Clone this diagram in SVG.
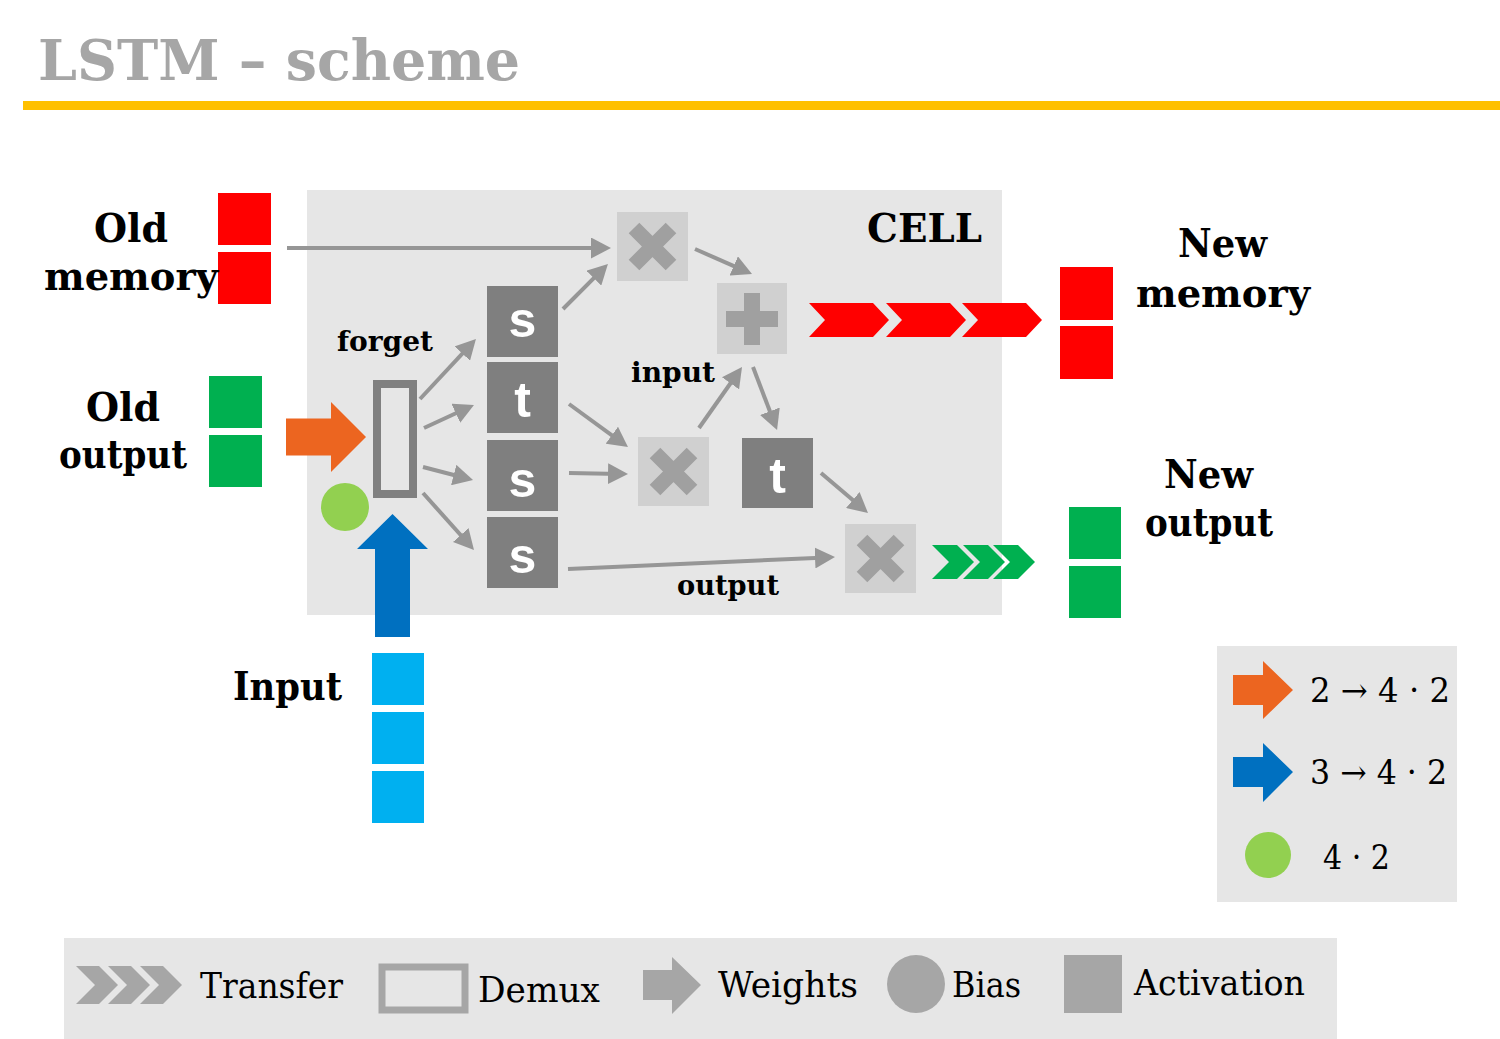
<svg xmlns="http://www.w3.org/2000/svg" width="1500" height="1039" viewBox="0 0 1500 1039">
<style>
.lbl{font-family:"DejaVu Serif","Liberation Serif",serif;font-weight:bold;fill:#000}
.lg{font-family:"DejaVu Serif","Liberation Serif",serif;font-weight:normal;fill:#000}
.mth{font-family:"DejaVu Serif","Liberation Serif",serif;fill:#000}
.act{fill:#7f7f7f}
.actt{font-family:"Liberation Sans",Arial,sans-serif;font-weight:bold;fill:#fff;font-size:50px;text-anchor:middle}
.op{fill:#d0d0d0}
.x{stroke:#a0a0a0;stroke-width:15;stroke-linecap:butt}
.con{stroke:#969696;stroke-width:4;fill:none;marker-end:url(#ah)}
</style>
<defs>
<marker id="ah" markerUnits="userSpaceOnUse" markerWidth="20" markerHeight="21" refX="12" refY="10.5" orient="auto">
<path d="M0,0 L20,10.5 L0,21 z" fill="#969696"/>
</marker>
</defs>
<rect width="1500" height="1039" fill="#fff"/>
<g id="title">
<text x="38" y="80" font-size="56" textLength="482" lengthAdjust="spacingAndGlyphs" class="lbl" style="fill:#a6a6a6">LSTM – scheme</text>
<rect x="23" y="101" width="1477" height="9" fill="#ffc000"/>
</g>
<g id="cell">
<rect x="307" y="190" width="695" height="425" fill="#e6e6e6"/>
<text x="867" y="242" font-size="40" textLength="115" lengthAdjust="spacingAndGlyphs" class="lbl">CELL</text>
</g>
<g id="old-memory">
<rect x="218" y="193" width="53" height="52" fill="#ff0000"/>
<rect x="218" y="252" width="53" height="52" fill="#ff0000"/>
<text x="94" y="242" font-size="40" textLength="74" lengthAdjust="spacingAndGlyphs" class="lbl">Old</text>
<text x="44" y="290" font-size="40" textLength="174" lengthAdjust="spacingAndGlyphs" class="lbl">memory</text>
</g>
<g id="old-output">
<rect x="209" y="376" width="53" height="52" fill="#00b050"/>
<rect x="209" y="435" width="53" height="52" fill="#00b050"/>
<text x="86" y="421" font-size="40" textLength="74" lengthAdjust="spacingAndGlyphs" class="lbl">Old</text>
<text x="59" y="468" font-size="40" textLength="128" lengthAdjust="spacingAndGlyphs" class="lbl">output</text>
</g>
<g id="new-memory">
<rect x="1060" y="267" width="53" height="53" fill="#ff0000"/>
<rect x="1060" y="326" width="53" height="53" fill="#ff0000"/>
<text x="1178" y="257" font-size="40" textLength="89" lengthAdjust="spacingAndGlyphs" class="lbl">New</text>
<text x="1136" y="307" font-size="40" textLength="174" lengthAdjust="spacingAndGlyphs" class="lbl">memory</text>
</g>
<g id="new-output">
<rect x="1069" y="507" width="52" height="52" fill="#00b050"/>
<rect x="1069" y="566" width="52" height="52" fill="#00b050"/>
<text x="1164" y="488" font-size="40" textLength="89" lengthAdjust="spacingAndGlyphs" class="lbl">New</text>
<text x="1145" y="536" font-size="40" textLength="128" lengthAdjust="spacingAndGlyphs" class="lbl">output</text>
</g>
<g id="input">
<rect x="372" y="653" width="52" height="52" fill="#00b0f0"/>
<rect x="372" y="712" width="52" height="52" fill="#00b0f0"/>
<rect x="372" y="771" width="52" height="52" fill="#00b0f0"/>
<text x="233" y="700" font-size="40" textLength="109" lengthAdjust="spacingAndGlyphs" class="lbl">Input</text>
</g>
<g id="input-weights">
<path d="M375,637 L375,549 L357,549 L392.5,514 L428,549 L410,549 L410,637 z" fill="#0070c0"/>
</g>
<g id="output-weights">
<path d="M286,418.5 L331,418.5 L331,402 L366,437 L331,472 L331,455.5 L286,455.5 z" fill="#ec6520"/>
</g>
<g id="bias">
<circle cx="345" cy="507" r="24" fill="#92d050"/>
</g>
<g id="demux">
<rect x="377" y="384" width="36" height="110" fill="none" stroke="#808080" stroke-width="8"/>
<text x="337" y="351" font-size="28" textLength="96" lengthAdjust="spacingAndGlyphs" class="lbl">forget</text>
</g>
<g id="act-s1"><rect x="487" y="286" width="71" height="71" class="act"/><text x="522.5" y="337" class="actt">s</text></g>
<g id="act-t1"><rect x="487" y="362" width="71" height="71" class="act"/><text x="522.5" y="417" class="actt">t</text></g>
<g id="act-s2"><rect x="487" y="440" width="71" height="71" class="act"/><text x="522.5" y="497" class="actt">s</text></g>
<g id="act-s3"><rect x="487" y="517" width="71" height="71" class="act"/><text x="522.5" y="573" class="actt">s</text></g>
<g id="act-t2"><rect x="742" y="438" width="71" height="70" class="act"/><text x="777.5" y="493" class="actt">t</text></g>
<g id="mul-forget">
<rect x="617" y="212" width="71" height="69" class="op"/>
<path d="M634,228 L671,265 M671,228 L634,265" class="x"/>
</g>
<g id="add">
<rect x="717" y="283" width="70" height="71" class="op"/>
<rect x="744" y="293" width="16" height="52" fill="#a0a0a0"/>
<rect x="726" y="311" width="52" height="16" fill="#a0a0a0"/>
</g>
<g id="mul-input">
<rect x="638" y="437" width="71" height="69" class="op"/>
<path d="M655,453 L692,490 M692,453 L655,490" class="x"/>
<text x="631" y="382" font-size="28" textLength="84" lengthAdjust="spacingAndGlyphs" class="lbl">input</text>
</g>
<g id="mul-output">
<rect x="845" y="524" width="71" height="69" class="op"/>
<path d="M862,540 L899,577 M899,540 L862,577" class="x"/>
<text x="677" y="595" font-size="28" textLength="102" lengthAdjust="spacingAndGlyphs" class="lbl">output</text>
</g>
<g id="connectors">
<line x1="287" y1="248" x2="603" y2="248" class="con"/>
<line x1="563" y1="309" x2="602.3" y2="269.7" class="con"/>
<line x1="695" y1="249" x2="744.7" y2="270.8" class="con"/>
<line x1="420" y1="399" x2="470.5" y2="344.8" class="con"/>
<line x1="424" y1="428" x2="466.7" y2="408.3" class="con"/>
<line x1="569" y1="404" x2="621.5" y2="442.3" class="con"/>
<line x1="423" y1="467" x2="465.3" y2="478" class="con"/>
<line x1="569" y1="473" x2="620" y2="473.9" class="con"/>
<line x1="423" y1="493" x2="468.7" y2="544" class="con"/>
<line x1="568" y1="569" x2="827" y2="557.4" class="con"/>
<line x1="699" y1="428" x2="737.4" y2="373.5" class="con"/>
<line x1="753" y1="367" x2="774.2" y2="422.5" class="con"/>
<line x1="821" y1="473" x2="861.9" y2="507.8" class="con"/>
<g id="transfer-memory" fill="#ff0000">
<path d="M809,303 L873,303 L889,320 L873,337 L809,337 L825,320 z"/>
<path d="M886,303 L950,303 L966,320 L950,337 L886,337 L902,320 z"/>
<path d="M962,303 L1026,303 L1042,320 L1026,337 L962,337 L978,320 z"/>
</g>
<g id="transfer-output" fill="#00b050">
<path d="M932,545 L957,545 L974,562 L957,579 L932,579 L949,562 z"/>
<path d="M963,545 L988,545 L1005,562 L988,579 L963,579 L980,562 z"/>
<path d="M993,545 L1018,545 L1035,562 L1018,579 L993,579 L1010,562 z"/>
</g>
</g>
<g id="legend-dims">
<rect x="1217" y="646" width="240" height="256" fill="#e6e6e6"/>
<path d="M1233,675 L1263,675 L1263,661 L1293,690 L1263,719 L1263,705 L1233,705 z" fill="#ec6520"/>
<path d="M1233,757 L1263,757 L1263,743 L1293,772 L1263,802 L1263,787 L1233,787 z" fill="#0070c0"/>
<circle cx="1268" cy="855" r="23" fill="#92d050"/>
<text x="1310" y="702" font-size="34" textLength="140" lengthAdjust="spacingAndGlyphs" class="mth">2 → 4 · 2</text>
<text x="1310" y="784" font-size="34" textLength="137" lengthAdjust="spacingAndGlyphs" class="mth">3 → 4 · 2</text>
<text x="1323" y="869" font-size="34" textLength="67" lengthAdjust="spacingAndGlyphs" class="mth">4 · 2</text>
</g>
<g id="legend-bottom">
<rect x="64" y="938" width="1273" height="101" fill="#e6e6e6"/>
<g fill="#a6a6a6">
<path d="M76,966 L99,966 L118,985 L99,1004 L76,1004 L95,985 z"/>
<path d="M108,966 L131,966 L150,985 L131,1004 L108,1004 L127,985 z"/>
<path d="M140,966 L163,966 L182,985 L163,1004 L140,1004 L159,985 z"/>
</g>
<text x="200" y="998" font-size="36" textLength="143" lengthAdjust="spacingAndGlyphs" class="lg">Transfer</text>
<rect x="382" y="967" width="83" height="43" fill="#e6e6e6" stroke="#a6a6a6" stroke-width="7"/>
<text x="478" y="1002" font-size="36" textLength="122" lengthAdjust="spacingAndGlyphs" class="lg">Demux</text>
<path d="M643,970 L672,970 L672,957 L701,985 L672,1014 L672,1000 L643,1000 z" fill="#a6a6a6"/>
<text x="718" y="997" font-size="36" textLength="140" lengthAdjust="spacingAndGlyphs" class="lg">Weights</text>
<circle cx="916" cy="984" r="29" fill="#a6a6a6"/>
<text x="952" y="997" font-size="36" textLength="69" lengthAdjust="spacingAndGlyphs" class="lg">Bias</text>
<rect x="1064" y="955" width="58" height="58" fill="#a6a6a6"/>
<text x="1134" y="995" font-size="36" textLength="171" lengthAdjust="spacingAndGlyphs" class="lg">Activation</text>
</g>
</svg>
